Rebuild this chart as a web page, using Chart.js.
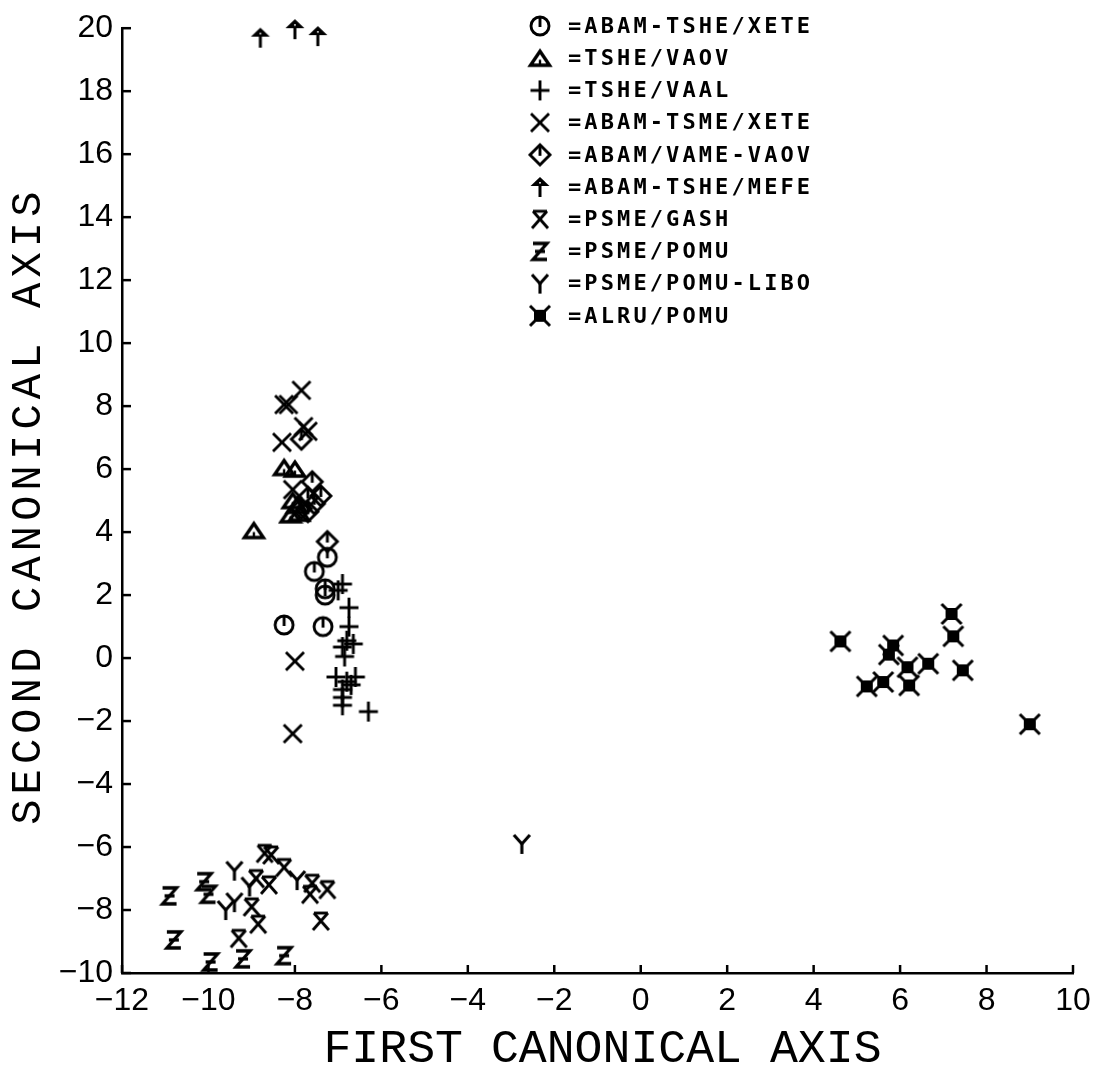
<!DOCTYPE html>
<html>
<head>
<meta charset="utf-8">
<script src="https://cdn.jsdelivr.net/npm/chart.js@4.4.1/dist/chart.umd.min.js"></script>
<style>
  html, body { margin: 0; padding: 0; background: #fff; }
  #wrap { width: 1095px; height: 1072px; }
</style>
</head>
<body>
<div id="wrap"><canvas id="canonChart" width="1095" height="1072"></canvas></div>
<script>
// axis ticks
const xTicks = [-12, -10, -8, -6, -4, -2, 0, 2, 4, 6, 8, 10];
const yTicks = [-10, -8, -6, -4, -2, 0, 2, 4, 6, 8, 10, 12, 14, 16, 18, 20];

// community types (legend order)
const groups = ['ABAM-TSHE/XETE', 'TSHE/VAOV', 'TSHE/VAAL', 'ABAM-TSME/XETE', 'ABAM/VAME-VAOV',
  'ABAM-TSHE/MEFE', 'PSME/GASH', 'PSME/POMU', 'PSME/POMU-LIBO', 'ALRU/POMU'];

// [first axis, second axis] per stand
const abamTsheXete = [[-7.25, 3.2], [-7.55, 2.75], [-7.3, 2.2], [-7.3, 2.0], [-8.25, 1.05], [-7.35, 1.0]];
const tsheVaov = [[-8.95, 4.05], [-8.25, 6.05], [-8.0, 6.0], [-8.05, 5.0], [-8.1, 4.55], [-7.9, 4.6], [-7.95, 4.85]];
const tsheVaal = [[-6.9, 2.35], [-7.0, 2.15], [-6.75, 1.6], [-6.75, 1.0], [-6.8, 0.55], [-6.9, 0.35],
  [-6.65, 0.45], [-6.85, 0.05], [-7.05, -0.6], [-6.6, -0.6], [-6.8, -0.75], [-6.7, -0.85],
  [-6.9, -1.0], [-6.9, -1.25], [-6.9, -1.5], [-6.3, -1.7]];
const abamTsmeXete = [[-7.85, 8.5], [-8.25, 8.05], [-8.15, 8.05], [-7.8, 7.35], [-7.7, 7.2],
  [-8.3, 6.85], [-8.05, 5.35], [-8.0, -0.1], [-8.05, -2.4]];
const abamVameVaov = [[-7.85, 6.95], [-7.6, 5.6], [-7.4, 5.15], [-7.7, 5.1], [-7.55, 4.9],
  [-7.7, 4.65], [-7.85, 4.75], [-7.25, 3.7]];
const abamTsheMefe = [[-8.8, 19.7], [-8.0, 19.97], [-7.47, 19.75]];
const psmeGash = [[-8.7, -6.2], [-8.55, -6.25], [-8.25, -6.65], [-8.9, -7.0], [-8.6, -7.2],
  [-7.6, -7.15], [-7.25, -7.35], [-7.65, -7.5], [-9.0, -7.9], [-8.85, -8.45], [-7.4, -8.35], [-9.3, -8.9]];
const psmePomu = [[-10.9, -7.55], [-10.1, -7.1], [-10.0, -7.5], [-10.8, -8.95], [-9.95, -9.65],
  [-9.2, -9.55], [-8.25, -9.45]];
const psmePomuLibo = [[-9.4, -6.75], [-9.05, -7.25], [-9.4, -7.75], [-9.6, -8.0], [-7.95, -7.05], [-2.75, -5.9]];
const alruPomu = [[4.62, 0.53], [7.19, 1.4], [7.23, 0.69], [5.84, 0.4], [5.74, 0.11], [6.17, -0.29],
  [6.65, -0.18], [7.45, -0.39], [5.23, -0.9], [5.61, -0.76], [6.21, -0.87], [9.0, -2.1]];

const series = [abamTsheXete, tsheVaov, tsheVaal, abamTsmeXete, abamVameVaov,
  abamTsheMefe, psmeGash, psmePomu, psmePomuLibo, alruPomu];

// plotter-like symbols drawn on small canvases
function symbol(draw) {
  const c = document.createElement('canvas');
  c.width = 26; c.height = 26;
  const g = c.getContext('2d');
  g.translate(13, 13);
  g.strokeStyle = '#000';
  g.fillStyle = '#000';
  g.lineWidth = 2.9;
  g.lineCap = 'butt';
  g.lineJoin = 'miter';
  draw(g);
  return c;
}
function seg(g, pts) {
  g.beginPath();
  g.moveTo(pts[0], pts[1]);
  for (let i = 2; i < pts.length; i += 2) g.lineTo(pts[i], pts[i + 1]);
  g.stroke();
}
const symbols = [
  symbol(g => { g.beginPath(); g.arc(0, 0, 9, 0, Math.PI * 2); g.stroke(); seg(g, [0, -9, 0, 1]); }),
  symbol(g => { g.lineWidth = 3.4; g.beginPath(); g.moveTo(0, -7); g.lineTo(9.5, 7); g.lineTo(-9.5, 7); g.closePath(); g.stroke(); g.fillRect(-1.2, 1.5, 2.4, 5); }),
  symbol(g => { seg(g, [-9.5, 0, 9.5, 0]); seg(g, [0, -10, 0, 10]); }),
  symbol(g => { seg(g, [-9, -9, 9, 9]); seg(g, [9, -9, -9, 9]); }),
  symbol(g => { g.beginPath(); g.moveTo(0, -10); g.lineTo(10, 0); g.lineTo(0, 10); g.lineTo(-10, 0); g.closePath(); g.stroke(); seg(g, [0, -10, 0, 1]); }),
  symbol(g => { g.beginPath(); g.moveTo(0, -10); g.lineTo(9.5, -1); g.lineTo(-9.5, -1); g.closePath(); g.fill(); g.lineWidth = 3; seg(g, [0, -2, 0, 10]); g.fillStyle = '#fff'; g.fillRect(-0.8, -5, 1.6, 1.6); }),
  symbol(g => { seg(g, [-7, -8, 7, -8]); seg(g, [-7, -8, 8, 9]); seg(g, [7, -8, -8, 9]); }),
  symbol(g => { g.lineWidth = 3.3; seg(g, [-7, -8, 7, -8, -7, 8, 7, 8]); seg(g, [-5, 0, 5, 0]); }),
  symbol(g => { g.lineWidth = 3.1; seg(g, [-8, -9, 0, 0, 8, -9]); seg(g, [0, 0, 0, 10]); }),
  symbol(g => { g.fillRect(-6, -6, 12, 12); g.lineWidth = 3; seg(g, [-10, -10, 10, 10]); seg(g, [10, -10, -10, 10]); })
];

const datasets = groups.map((name, i) => ({
  label: name,
  data: series[i].map(p => ({ x: p[0], y: p[1] })),
  pointStyle: symbols[i],
  pointRadius: 10,
  pointHoverRadius: 10,
  clip: false
}));

const minusSign = v => String(v).replace('-', '\u2212');

const plotterDecor = {
  id: 'plotterDecor',
  afterDraw(chart) {
    const ctx = chart.ctx;
    const xs = chart.scales.x, ys = chart.scales.y;
    const a = chart.chartArea;
    ctx.save();
    // inward tick marks
    ctx.strokeStyle = '#000';
    ctx.lineWidth = 2.5;
    xTicks.forEach(v => {
      const px = xs.getPixelForValue(v);
      ctx.beginPath(); ctx.moveTo(px, a.bottom); ctx.lineTo(px, a.bottom - 8); ctx.stroke();
    });
    yTicks.forEach(v => {
      const py = ys.getPixelForValue(v);
      ctx.beginPath(); ctx.moveTo(a.left, py); ctx.lineTo(a.left + 9, py); ctx.stroke();
    });
    // legend list
    ctx.fillStyle = '#000';
    ctx.font = 'bold 22px "DejaVu Sans Mono"';
    ctx.letterSpacing = '3.1px';
    ctx.textBaseline = 'middle';
    ctx.textAlign = 'left';
    chart.data.datasets.forEach((ds, i) => {
      const y = 26 + i * 32.2;
      ctx.drawImage(ds.pointStyle, 540 - 13, y - 13);
      ctx.fillText('=' + ds.label, 568, y + 1);
    });
    // axis titles
    ctx.font = '46.5px "Liberation Mono"';
    ctx.letterSpacing = '0px';
    ctx.textAlign = 'center';
    ctx.fillText('FIRST CANONICAL AXIS', (a.left + a.right) / 2 + 5, 1050);
    ctx.translate(29, (a.top + a.bottom) / 2 + 5);
    ctx.rotate(-Math.PI / 2);
    ctx.letterSpacing = '5.2px';
    ctx.font = '42px "Liberation Mono"';
    ctx.fillText('SECOND CANONICAL AXIS', 0, 0);
    ctx.restore();
  }
};

new Chart(document.getElementById('canonChart').getContext('2d'), {
  type: 'scatter',
  data: { datasets: datasets },
  options: {
    responsive: false,
    animation: false,
    layout: { padding: { top: 27, right: 22, left: 0, bottom: 0 } },
    plugins: { legend: { display: false }, tooltip: { enabled: false } },
    scales: {
      x: {
        type: 'linear', min: -12, max: 10,
        afterFit: s => { s.height = 99; },
        afterBuildTicks: s => { s.ticks = xTicks.map(v => ({ value: v })); },
        grid: { display: false, drawTicks: false },
        border: { display: true, color: '#000', width: 2.5 },
        ticks: { color: '#000', padding: 4, maxRotation: 0, font: { family: '"Liberation Sans", Arial', size: 32, lineHeight: 1.53 }, callback: minusSign }
      },
      y: {
        type: 'linear', min: -10, max: 20,
        afterFit: s => { s.width = 122; },
        afterBuildTicks: s => { s.ticks = yTicks.map(v => ({ value: v })); },
        grid: { display: false, drawTicks: false },
        border: { display: true, color: '#000', width: 2.5 },
        ticks: { color: '#000', padding: 9, font: { family: '"Liberation Sans", Arial', size: 32 }, callback: minusSign }
      }
    }
  },
  plugins: [plotterDecor]
});
</script>
</body>
</html>
